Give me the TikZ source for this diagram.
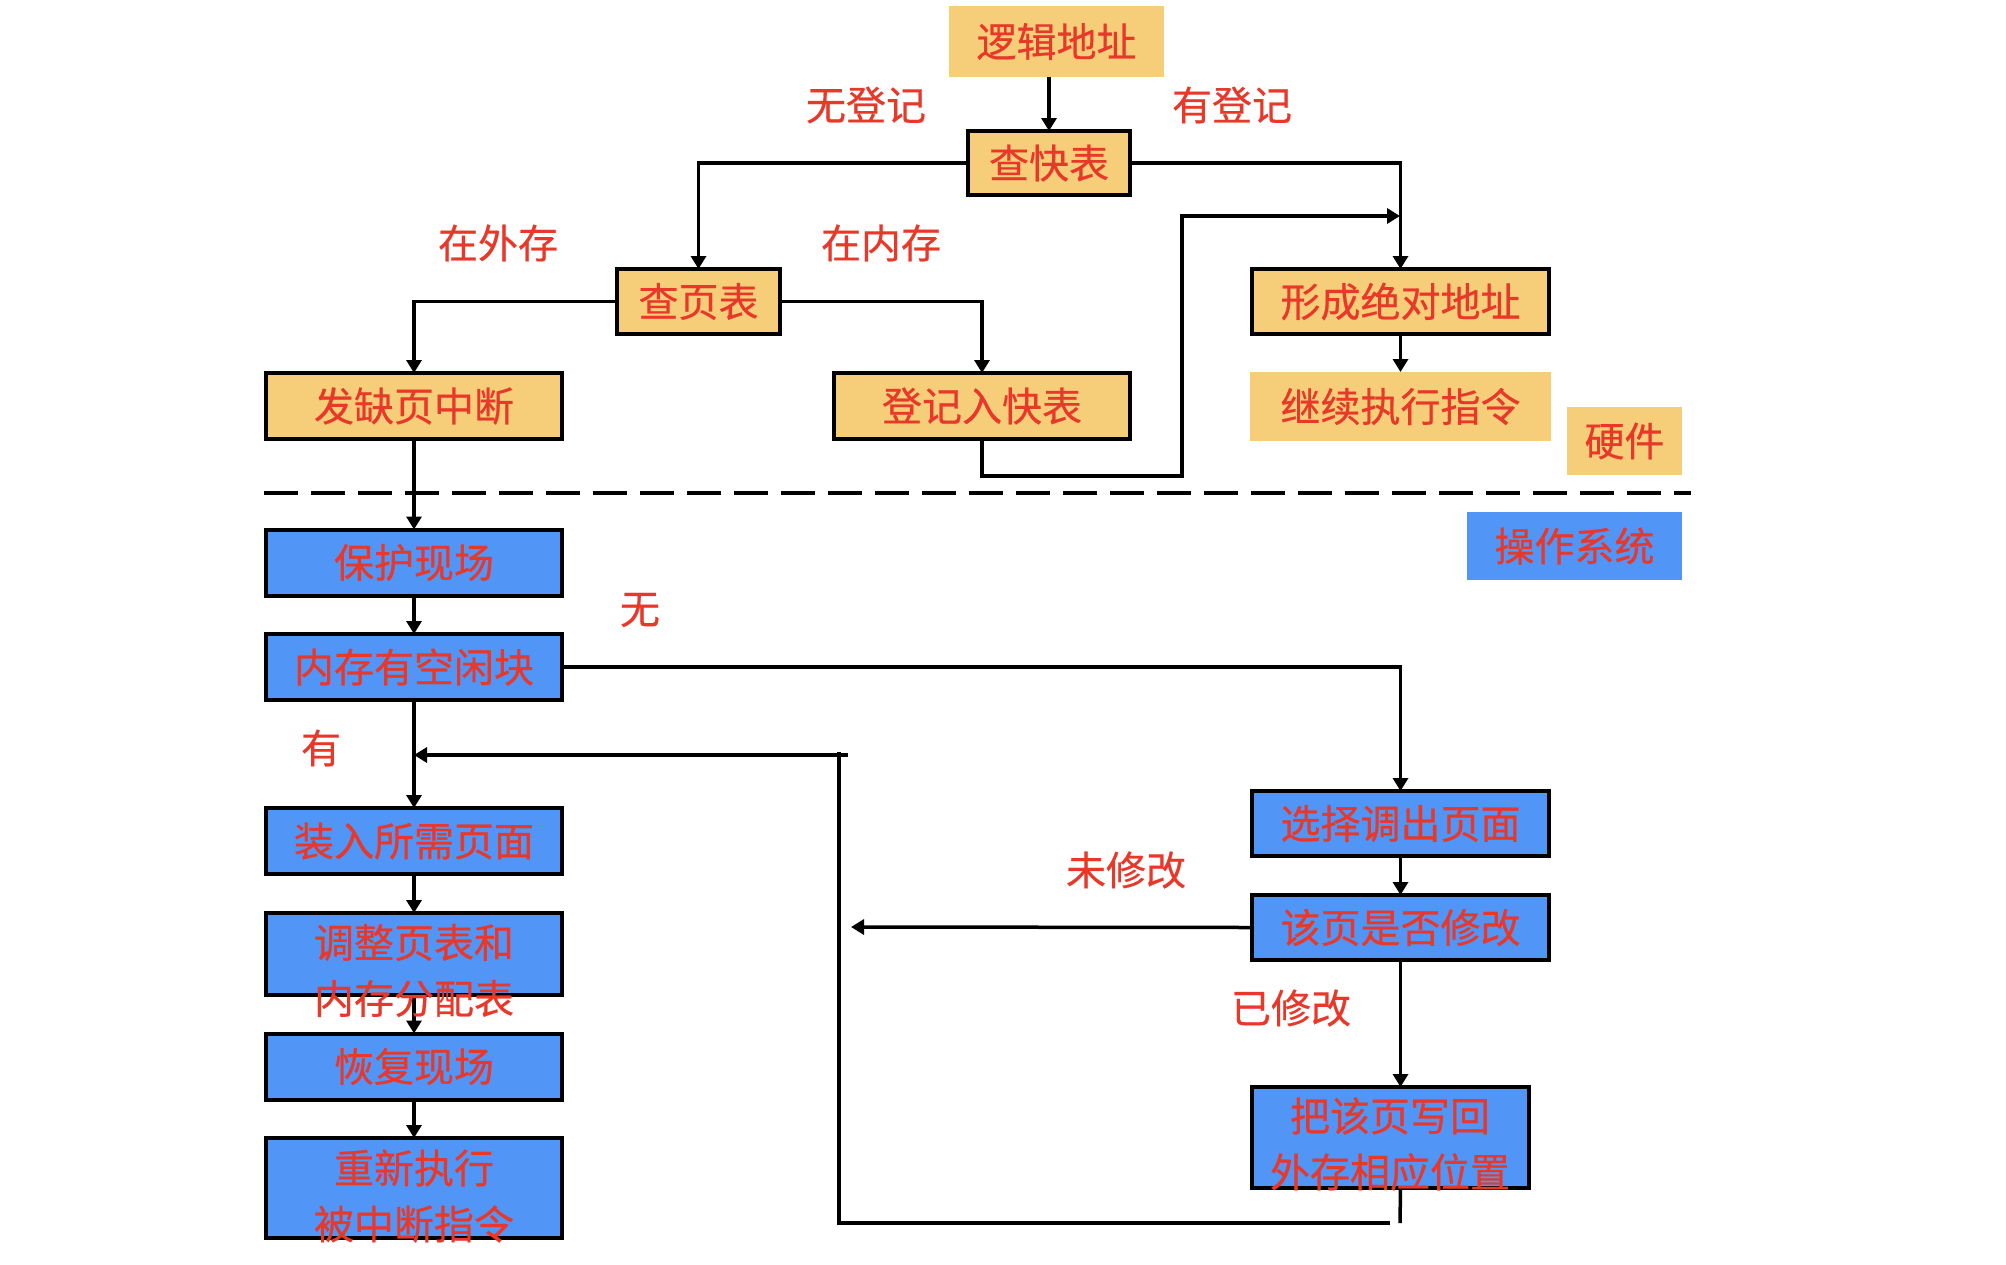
\documentclass[tikz,border=0pt]{standalone}
\usepackage{fontspec}
\setmainfont{Noto Sans CJK SC}[FakeBold=0.5]
\usetikzlibrary{arrows.meta}
\definecolor{boxorange}{HTML}{F6CD78}
\definecolor{boxblue}{HTML}{5195F6}
\definecolor{txtred}{HTML}{E8382A}
\begin{document}
\begin{tikzpicture}[x=0.5pt,y=-0.5pt,
  base/.style={inner sep=0pt, outer sep=0pt, font=\fontsize{20pt}{28pt}\selectfont, text=txtred},
  obox/.style={base, draw=black, line width=2pt, fill=boxorange},
  ofill/.style={base, fill=boxorange},
  bbox/.style={base, draw=black, line width=2pt, fill=boxblue},
  bfill/.style={base, fill=boxblue},
  colbox/.style={minimum width=148pt, minimum height=33pt},
  lbl/.style={base},
  mtxt/.style={base, align=center},
  conn/.style={line width=1.75pt, draw=black},
  arr/.style={conn, -{Triangle[length=6.5pt,width=7.5pt]}},
  dashline/.style={line width=2pt, draw=black, dash pattern=on 17pt off 6.5pt},
]
\useasboundingbox (0,0) rectangle (2006,1264);

% hardware part
\node[ofill, minimum width=107.5pt, minimum height=35.5pt] (la) at (1056.5,41.5) {逻辑地址};
\node[obox, minimum width=81pt, minimum height=32pt] (kb) at (1049,163) {查快表};
\node[obox, minimum width=81.5pt, minimum height=32.5pt] (yb) at (698.5,301.5) {查页表};
\node[obox, colbox] (qy) at (414,406) {发缺页中断};
\node[obox, colbox] (dj) at (982,406) {登记入快表};
\node[obox, minimum width=148.5pt, minimum height=32.5pt] (xc) at (1400.5,301.5) {形成绝对地址};
\node[ofill, minimum width=150.5pt, minimum height=34.5pt] (jx) at (1400.5,406.5) {继续执行指令};
\node[ofill, minimum width=57.5pt, minimum height=34pt] (yj) at (1624.5,441) {硬件};
\node[bfill, minimum width=107.5pt, minimum height=34pt] (os) at (1574.5,546) {操作系统};

% OS part
\node[bbox, colbox] (bh) at (414,562.5) {保护现场};
\node[bbox, colbox] (nc) at (414,667) {内存有空闲块};
\node[bbox, colbox] (zr) at (414,841) {装入所需页面};
\node[bbox, minimum width=148pt, minimum height=41pt] (tz) at (414,954) {};
\node[bbox, colbox] (hf) at (414,1066.5) {恢复现场};
\node[bbox, minimum width=148pt, minimum height=50pt] (cx) at (414,1188) {};
\node[bbox, minimum width=148.5pt, minimum height=32.5pt] (xz) at (1400.5,823.5) {选择调出页面};
\node[bbox, minimum width=148.5pt, minimum height=32.5pt] (sf) at (1400.5,927.5) {该页是否修改};
\node[bbox, minimum width=138.5pt, minimum height=50.5pt] (bg) at (1390.5,1137.5) {};

% labels
\node[lbl] (l1) at (866,105) {无登记};
\node[lbl] (l2) at (1232,105) {有登记};
\node[lbl] (l3) at (498,243) {在外存};
\node[lbl] (l4) at (881,243) {在内存};
\node[lbl] (l5) at (640,610) {无};
\node[lbl] (l6) at (321,748) {有};
\node[lbl] (l7) at (1126,870) {未修改};
\node[lbl] (l8) at (1291,1008) {已修改};

% coordinates
\coordinate (c1) at (1182,476);
\coordinate (c2) at (1182,216);
\coordinate (c3) at (1400,216);
\coordinate (d1) at (264,493);
\coordinate (d2) at (1691,493);
\coordinate (rb) at (1400,1223);
\coordinate (rb2) at (1390,1223);
\coordinate (rl) at (839,1223);
\coordinate (rt) at (839,752);
\coordinate (rs) at (848,755);
\coordinate (ut) at (851,927);

% connectors
\draw[arr] (la.south -| kb.north) -- (kb.north);
\draw[arr] (kb.west) -| (yb.north);
\draw[arr] (kb.east) -| (xc.north);
\draw[arr] (yb.west) -| (qy.north);
\draw[arr] (yb.east) -| (dj.north);
\draw[arr] (dj.south) |- (c1) -- (c2) -- (c3);
\draw[arr] (xc.south) -- (jx.north);
\draw[dashline] (d1) -- (d2);
\draw[arr] (qy.south) -- (bh.north);
\draw[arr] (bh.south) -- (nc.north);
\draw[arr] (nc.east) -| (xz.north);
\draw[arr] (nc.south) -- (zr.north);
\draw[arr] (zr.south) -- (tz.north);
\draw[arr] (tz.south) -- (hf.north);
\draw[arr] (hf.south) -- (cx.north);
\draw[arr] (xz.south) -- (sf.north);
\draw[arr] (sf.south) -- (sf.south |- bg.north);
\draw[arr] (sf.west) -- (ut);
\draw[conn] (sf.south |- bg.south) -- (rb);
\draw[conn] (rb2) -- (rl) -- (rt);
\draw[arr] (rs) -- (rs -| nc.south);

% multi-line texts on top
\node[mtxt] (tzt) at (414,970.5) {调整页表和\\内存分配表};
\node[mtxt] (cxt) at (414,1196) {重新执行\\被中断指令};
\node[mtxt] (bgt) at (1390,1144) {把该页写回\\外存相应位置};
\end{tikzpicture}
\end{document}
